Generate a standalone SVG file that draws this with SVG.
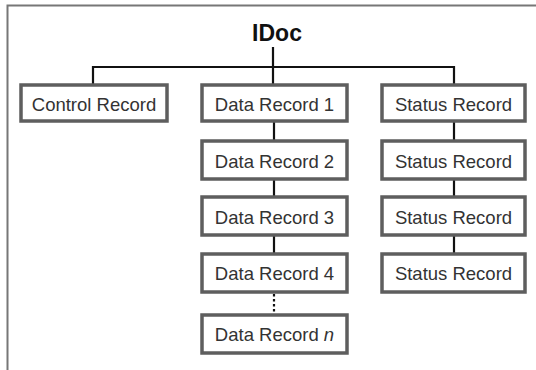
<svg xmlns="http://www.w3.org/2000/svg" width="536" height="370" viewBox="0 0 536 370">
<style>
.box{fill:#fff;stroke:#5e5e5e;stroke-width:3.5}
.t{font-family:"Liberation Sans",Arial,sans-serif;font-size:18.5px;fill:#333;text-anchor:middle}
.c{stroke:#111;stroke-width:2.2;fill:none}
</style>
<rect width="536" height="370" fill="#fff"/>
<path d="M7.5,370 V5.5 H536" fill="none" stroke="#777" stroke-width="2"/>
<text x="277" y="41" font-family="'Liberation Sans',Arial,sans-serif" font-size="23" font-weight="bold" fill="#111" text-anchor="middle">IDoc</text>
<g id="connectors">
<path class="c" d="M273,47 V84 M93,84 V67 H454 V84"/>
<path class="c" d="M274,121 V141 M274,178 V197 M274,235 V254"/>
<path class="c" d="M454,121 V141 M454,178 V197 M454,235 V254"/>
<path d="M274,294 V314" stroke="#111" stroke-width="2.2" stroke-dasharray="2.5,2.5" fill="none"/>
</g>
<g id="control"><rect class="box" x="21" y="85" width="146" height="36"/><text class="t" x="94" y="110.5">Control Record</text></g>
<g id="data1"><rect class="box" x="202" y="85" width="145" height="36"/><text class="t" x="274.5" y="110.5">Data Record 1</text></g>
<g id="data2"><rect class="box" x="202" y="141" width="145" height="38"/><text class="t" x="274.5" y="167.5">Data Record 2</text></g>
<g id="data3"><rect class="box" x="202" y="197" width="145" height="38"/><text class="t" x="274.5" y="223.5">Data Record 3</text></g>
<g id="data4"><rect class="box" x="202" y="254" width="145" height="38"/><text class="t" x="274.5" y="280">Data Record 4</text></g>
<g id="datan"><rect class="box" x="202" y="315" width="145" height="38"/><text class="t" x="274.5" y="341">Data Record <tspan font-style="italic">n</tspan></text></g>
<g id="status1"><rect class="box" x="382" y="85" width="143" height="36"/><text class="t" x="453.5" y="110.5">Status Record</text></g>
<g id="status2"><rect class="box" x="382" y="141" width="143" height="38"/><text class="t" x="453.5" y="167.5">Status Record</text></g>
<g id="status3"><rect class="box" x="382" y="197" width="143" height="38"/><text class="t" x="453.5" y="223.5">Status Record</text></g>
<g id="status4"><rect class="box" x="382" y="254" width="143" height="38"/><text class="t" x="453.5" y="280">Status Record</text></g>
</svg>
